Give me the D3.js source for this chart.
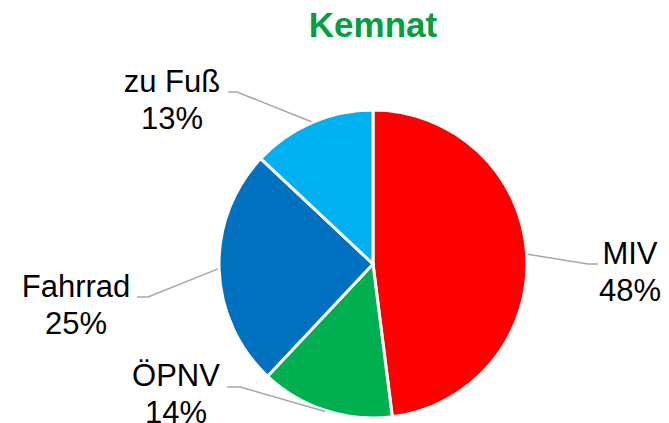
<!DOCTYPE html>
<html>
<head>
<meta charset="utf-8">
<script src="https://cdn.jsdelivr.net/npm/d3@7"></script>
<style>
  body { margin: 0; background: #fff; }
  svg text { font-family: "Liberation Sans", Arial, sans-serif; }
</style>
</head>
<body>
<svg id="chart" width="669" height="423"></svg>
<script>
// chart data
var title = 'Kemnat';
var categories = ['MIV', 'ÖPNV', 'Fahrrad', 'zu Fuß'];
var shares = [48, 14, 25, 13];
var colors = ['#FF0000', '#00B050', '#0070C0', '#00B0F0'];

// where each label sits (label centre x, first baseline y) and where the leader line bends
var labelPos = {
  'MIV': { x: 630, y: 264, elbow: [588, 264], end: [598, 264] },
  'ÖPNV': { x: 176, y: 386, elbow: [240, 387], end: [227, 387] },
  'Fahrrad': { x: 76, y: 297, elbow: [148, 297], end: [137, 297] },
  'zu Fuß': { x: 172, y: 92, elbow: [237, 92], end: [228, 92] }
};

var cx = 373, cy = 264, radius = 154;

var svg = d3.select('#chart');

svg.append('text')
  .attr('x', cx)
  .attr('y', 37)
  .attr('text-anchor', 'middle')
  .attr('font-size', 35)
  .attr('font-weight', 'bold')
  .attr('fill', '#00A040')
  .text(title);

var rows = categories.map(function(c, i) {
  return { name: c, value: shares[i], color: colors[i] };
});

var pie = d3.pie().sort(null).value(function(d) { return d.value; });
var arc = d3.arc().innerRadius(0).outerRadius(radius);
var arcs = pie(rows);

var g = svg.append('g').attr('transform', 'translate(' + cx + ',' + cy + ')');

g.selectAll('path.slice')
  .data(arcs)
  .enter().append('path')
  .attr('class', 'slice')
  .attr('d', arc)
  .attr('fill', function(d) { return d.data.color; })
  .attr('stroke', '#fff')
  .attr('stroke-width', 3)
  .attr('stroke-linejoin', 'round');

// leader lines start on the rim at the middle of each slice
arcs.forEach(function(d) {
  var mid = (d.startAngle + d.endAngle) / 2;
  var sx = cx + (radius + 1) * Math.sin(mid);
  var sy = cy - (radius + 1) * Math.cos(mid);
  var p = labelPos[d.data.name];
  svg.append('polyline')
    .attr('points', [[sx, sy], p.elbow, p.end].map(function(q) { return q.join(','); }).join(' '))
    .attr('fill', 'none')
    .attr('stroke', '#A6A6A6')
    .attr('stroke-width', 1.5);

  var t = svg.append('text')
    .attr('text-anchor', 'middle')
    .attr('font-size', 31)
    .attr('fill', '#000');
  t.append('tspan').attr('x', p.x).attr('y', p.y).text(d.data.name);
  t.append('tspan').attr('x', p.x).attr('y', p.y + 37).text(d.data.value + '%');
});
</script>
</body>
</html>
